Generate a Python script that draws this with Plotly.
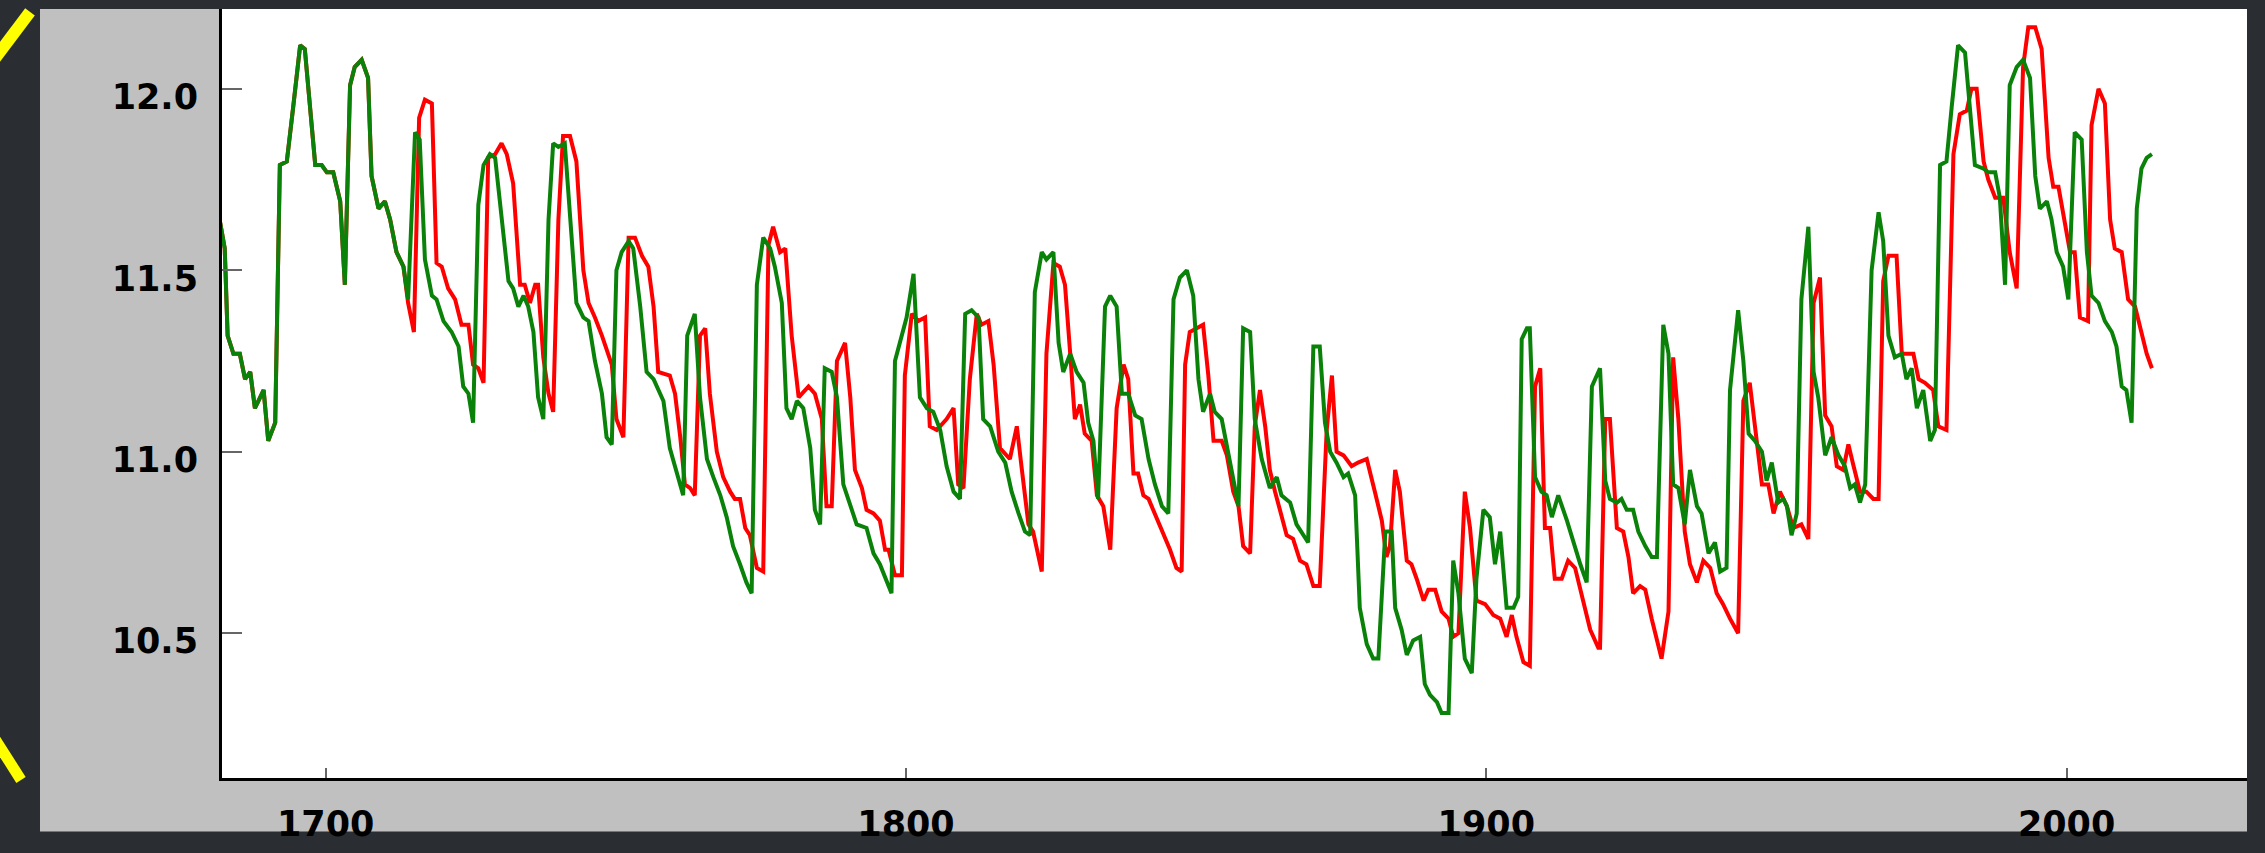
import plotly.graph_objects as go

# ---------------- data ----------------
green_years = [
    1681.5, 1682.6, 1683.1, 1684.1, 1685.2, 1686.1, 1687.0, 1687.8, 1688.7, 1689.3,
    1690.1, 1691.3, 1692.1, 1693.3, 1694.4, 1695.6, 1696.4, 1698.2, 1699.3, 1700.2,
    1701.3, 1702.5, 1703.3, 1704.2, 1705.0, 1706.2, 1707.3, 1707.9, 1709.1, 1710.2,
    1711.1, 1712.2, 1713.4, 1714.2, 1715.4, 1716.2, 1717.1, 1718.3, 1719.1, 1720.3,
    1721.7, 1722.9, 1723.7, 1724.6, 1725.4, 1726.3, 1727.2, 1728.3, 1729.2, 1731.5,
    1732.3, 1733.2, 1734.1, 1734.9, 1735.8, 1736.6, 1737.5, 1738.4, 1739.2, 1740.1,
    1741.2, 1742.1, 1743.2, 1744.4, 1745.3, 1746.4, 1747.6, 1748.4, 1749.3, 1750.1,
    1751.0, 1752.2, 1753.0, 1754.2, 1755.3, 1756.5, 1758.2, 1759.3, 1760.5, 1761.6,
    1762.3, 1763.6, 1764.5, 1765.7, 1766.8, 1768.0, 1769.1, 1770.2, 1771.4, 1772.5,
    1773.4, 1774.3, 1775.4, 1776.6, 1777.4, 1778.6, 1779.4, 1780.3, 1781.2, 1782.3,
    1783.5, 1784.3, 1785.2, 1786.0, 1787.2, 1788.1, 1789.2, 1790.4, 1791.5, 1793.2,
    1794.4, 1795.5, 1796.7, 1797.5, 1798.1, 1800.1, 1801.3, 1802.4, 1803.6, 1804.7,
    1805.9, 1807.0, 1808.2, 1809.3, 1810.2, 1811.3, 1812.5, 1813.3, 1814.5, 1815.9,
    1817.1, 1818.2, 1819.4, 1820.5, 1821.4, 1822.2, 1823.4, 1824.2, 1825.4, 1826.3,
    1827.1, 1828.3, 1829.4, 1830.6, 1831.4, 1832.3, 1833.1, 1834.3, 1835.2, 1836.3,
    1837.2, 1838.3, 1839.5, 1840.6, 1841.8, 1842.9, 1844.1, 1845.2, 1846.1, 1847.2,
    1848.4, 1849.5, 1850.4, 1851.2, 1852.4, 1853.2, 1854.4, 1856.1, 1857.3, 1858.1,
    1859.3, 1860.1, 1861.3, 1862.7, 1863.9, 1864.7, 1866.2, 1867.3, 1868.5, 1869.3,
    1870.2, 1871.3, 1872.2, 1873.1, 1874.2, 1875.4, 1876.2, 1877.4, 1878.2, 1879.4,
    1880.5, 1881.4, 1882.6, 1883.7, 1884.3, 1885.4, 1886.3, 1887.4, 1888.6, 1889.4,
    1890.3, 1891.5, 1892.3, 1893.5, 1894.3, 1895.2, 1896.3, 1897.5, 1898.3, 1899.5,
    1900.6, 1901.5, 1902.4, 1903.5, 1904.7, 1905.5, 1906.1, 1907.0, 1907.5, 1908.4,
    1909.5, 1910.4, 1911.3, 1912.4, 1913.9, 1915.0, 1916.2, 1917.3, 1918.2, 1919.6,
    1920.5, 1921.3, 1922.5, 1923.3, 1924.2, 1925.3, 1926.2, 1927.4, 1928.5, 1929.4,
    1930.5, 1931.4, 1932.2, 1933.1, 1934.2, 1935.1, 1936.3, 1937.1, 1938.3, 1939.4,
    1940.3, 1941.4, 1942.0, 1943.4, 1944.3, 1945.2, 1946.3, 1947.5, 1948.3, 1949.2,
    1950.3, 1951.2, 1951.8, 1952.6, 1953.5, 1954.3, 1955.5, 1956.4, 1957.2, 1958.4,
    1959.5, 1960.7, 1961.8, 1962.7, 1963.5, 1964.4, 1965.3, 1966.4, 1967.6, 1968.4,
    1969.3, 1970.4, 1971.6, 1972.4, 1973.3, 1974.2, 1975.3, 1976.5, 1977.3, 1978.2,
    1979.3, 1980.2, 1981.3, 1982.5, 1984.2, 1985.7, 1986.5, 1987.7, 1988.5, 1989.4,
    1990.2, 1991.4, 1992.5, 1993.7, 1994.6, 1995.4, 1996.6, 1997.4, 1998.3, 1999.4,
    2000.3, 2001.4, 2002.6, 2003.5, 2004.3, 2005.5, 2006.6, 2007.8, 2008.6, 2009.5,
    2010.3, 2011.2, 2012.1, 2012.9, 2013.8, 2014.7,
]
green_values = [
    11.66, 11.56, 11.32, 11.27, 11.27, 11.20, 11.22, 11.12, 11.15, 11.17,
    11.03, 11.08, 11.79, 11.80, 11.95, 12.12, 12.11, 11.79, 11.79, 11.77,
    11.77, 11.69, 11.46, 12.01, 12.06, 12.08, 12.03, 11.76, 11.67, 11.69,
    11.64, 11.55, 11.51, 11.42, 11.88, 11.86, 11.53, 11.43, 11.42, 11.36,
    11.33, 11.29, 11.18, 11.16, 11.08, 11.68, 11.79, 11.82, 11.81, 11.47,
    11.45, 11.40, 11.43, 11.40, 11.33, 11.15, 11.09, 11.64, 11.85, 11.84,
    11.85, 11.66, 11.41, 11.37, 11.36, 11.25, 11.16, 11.04, 11.02, 11.50,
    11.55, 11.58, 11.56, 11.40, 11.22, 11.20, 11.14, 11.01, 10.94, 10.88,
    11.32, 11.38, 11.15, 10.98, 10.93, 10.88, 10.82, 10.74, 10.69, 10.64,
    10.61, 11.46, 11.59, 11.56, 11.51, 11.41, 11.12, 11.09, 11.14, 11.12,
    11.01, 10.84, 10.80, 11.23, 11.22, 11.15, 10.91, 10.85, 10.80, 10.79,
    10.72, 10.69, 10.64, 10.61, 11.25, 11.37, 11.49, 11.15, 11.12, 11.11,
    11.06, 10.96, 10.89, 10.87, 11.38, 11.39, 11.37, 11.09, 11.07, 11.00,
    10.97, 10.89, 10.83, 10.78, 10.77, 11.44, 11.55, 11.53, 11.55, 11.30,
    11.22, 11.27, 11.22, 11.19, 11.08, 11.03, 10.87, 11.40, 11.43, 11.40,
    11.16, 11.16, 11.10, 11.09, 10.98, 10.91, 10.85, 10.83, 11.42, 11.48,
    11.50, 11.43, 11.20, 11.11, 11.16, 11.11, 11.09, 10.95, 10.85, 11.34,
    11.33, 11.09, 10.98, 10.90, 10.93, 10.88, 10.86, 10.80, 10.77, 10.75,
    11.29, 11.29, 11.08, 11.00, 10.97, 10.93, 10.94, 10.88, 10.57, 10.47,
    10.43, 10.43, 10.78, 10.78, 10.57, 10.51, 10.44, 10.48, 10.49, 10.36,
    10.33, 10.31, 10.28, 10.28, 10.70, 10.61, 10.43, 10.39, 10.65, 10.84,
    10.82, 10.69, 10.78, 10.57, 10.57, 10.60, 11.31, 11.34, 11.34, 10.93,
    10.89, 10.88, 10.82, 10.88, 10.81, 10.75, 10.69, 10.64, 11.18, 11.23,
    10.92, 10.87, 10.86, 10.87, 10.84, 10.84, 10.78, 10.74, 10.71, 10.71,
    11.35, 11.27, 10.91, 10.90, 10.80, 10.95, 10.85, 10.83, 10.72, 10.75,
    10.67, 10.68, 11.17, 11.39, 11.25, 11.05, 11.03, 11.00, 10.92, 10.97,
    10.86, 10.87, 10.85, 10.77, 10.83, 11.42, 11.62, 11.22, 11.15, 10.99,
    11.04, 10.99, 10.96, 10.90, 10.91, 10.86, 10.91, 11.50, 11.66, 11.58,
    11.32, 11.26, 11.27, 11.20, 11.23, 11.12, 11.17, 11.03, 11.06, 11.79,
    11.80, 11.95, 12.12, 12.10, 11.79, 11.78, 11.77, 11.77, 11.70, 11.46,
    12.01, 12.06, 12.08, 12.03, 11.76, 11.67, 11.69, 11.64, 11.55, 11.51,
    11.42, 11.88, 11.86, 11.55, 11.43, 11.41, 11.36, 11.33, 11.29, 11.18,
    11.17, 11.08, 11.67, 11.78, 11.81, 11.82,
]

red_years = [
    1681.5, 1682.6, 1683.1, 1684.1, 1685.2, 1686.1, 1687.0, 1687.8, 1688.7, 1689.3,
    1690.1, 1691.3, 1692.1, 1693.3, 1694.4, 1695.6, 1696.4, 1698.2, 1699.3, 1700.2,
    1701.3, 1702.5, 1703.3, 1704.2, 1705.0, 1706.2, 1707.3, 1707.9, 1709.1, 1710.2,
    1711.1, 1712.2, 1713.4, 1714.2, 1715.2, 1716.1, 1717.1, 1718.3, 1719.1, 1720.0,
    1721.1, 1722.3, 1723.4, 1724.6, 1725.4, 1726.3, 1727.2, 1728.0, 1729.2, 1730.3,
    1731.2, 1732.3, 1733.5, 1734.3, 1735.2, 1736.1, 1736.6, 1737.5, 1738.4, 1739.2,
    1740.1, 1740.9, 1742.1, 1743.2, 1744.4, 1745.3, 1746.4, 1747.6, 1749.3, 1750.1,
    1751.3, 1752.2, 1753.3, 1754.5, 1755.6, 1756.5, 1757.3, 1759.3, 1760.2, 1761.1,
    1761.9, 1762.8, 1763.6, 1764.5, 1765.4, 1766.2, 1767.4, 1768.5, 1769.7, 1770.5,
    1771.4, 1772.3, 1773.1, 1774.3, 1775.4, 1776.3, 1777.1, 1778.3, 1779.2, 1780.3,
    1781.5, 1783.2, 1784.3, 1785.5, 1786.3, 1787.2, 1788.1, 1789.5, 1790.4, 1791.2,
    1792.4, 1793.2, 1794.4, 1795.5, 1796.4, 1797.0, 1798.1, 1799.3, 1799.8, 1801.0,
    1802.1, 1803.3, 1804.1, 1805.3, 1807.0, 1808.2, 1809.0, 1809.9, 1811.0, 1812.2,
    1813.0, 1814.2, 1815.1, 1816.2, 1817.9, 1819.1, 1819.9, 1821.1, 1821.9, 1823.4,
    1824.2, 1825.4, 1826.5, 1827.4, 1828.3, 1829.1, 1830.0, 1830.8, 1832.0, 1832.9,
    1834.0, 1835.2, 1836.3, 1837.5, 1838.3, 1839.2, 1840.0, 1840.9, 1841.8, 1842.9,
    1844.3, 1845.5, 1846.6, 1847.5, 1848.1, 1848.9, 1850.1, 1851.2, 1852.1, 1853.0,
    1854.4, 1855.3, 1856.4, 1857.3, 1858.1, 1859.3, 1860.1, 1861.0, 1861.9, 1862.7,
    1863.6, 1864.5, 1865.6, 1866.7, 1867.9, 1869.0, 1870.2, 1871.3, 1872.5, 1873.4,
    1874.2, 1875.4, 1876.8, 1877.9, 1879.4, 1880.8, 1882.0, 1882.8, 1883.4, 1884.3,
    1885.1, 1886.3, 1887.1, 1888.0, 1889.2, 1890.0, 1891.2, 1892.3, 1893.5, 1894.3,
    1895.2, 1896.3, 1897.2, 1898.3, 1899.8, 1901.2, 1902.4, 1903.5, 1904.4, 1905.2,
    1906.4, 1907.5, 1908.4, 1909.3, 1910.1, 1911.0, 1911.8, 1913.0, 1914.1, 1915.3,
    1916.4, 1917.9, 1919.3, 1919.6, 1920.5, 1921.3, 1922.5, 1923.6, 1924.5, 1925.3,
    1926.5, 1927.4, 1928.5, 1929.4, 1930.2, 1931.4, 1932.2, 1933.1, 1934.2, 1935.1,
    1936.3, 1937.4, 1938.6, 1939.7, 1940.8, 1942.0, 1943.4, 1944.3, 1945.4, 1946.3,
    1947.5, 1948.6, 1949.5, 1950.6, 1951.8, 1952.9, 1954.3, 1955.5, 1956.4, 1957.5,
    1958.4, 1959.5, 1960.4, 1961.5, 1962.4, 1963.3, 1964.4, 1965.5, 1966.7, 1967.6,
    1968.4, 1969.3, 1970.7, 1971.6, 1972.7, 1973.6, 1974.5, 1975.6, 1977.0, 1977.9,
    1979.3, 1980.5, 1981.6, 1982.8, 1983.6, 1984.5, 1985.7, 1986.5, 1987.7, 1989.1,
    1990.2, 1991.4, 1992.5, 1993.4, 1994.6, 1995.7, 1996.9, 1997.7, 1998.6, 1999.4,
    2000.6, 2001.4, 2002.3, 2003.7, 2004.3, 2005.5, 2006.6, 2007.5, 2008.3, 2009.5,
    2010.6, 2011.8, 2012.9, 2013.8, 2014.7,
]
red_values = [
    11.66, 11.56, 11.32, 11.27, 11.27, 11.20, 11.22, 11.12, 11.15, 11.17,
    11.03, 11.08, 11.79, 11.80, 11.95, 12.12, 12.11, 11.79, 11.79, 11.77,
    11.77, 11.69, 11.46, 12.01, 12.06, 12.08, 12.03, 11.76, 11.67, 11.69,
    11.64, 11.55, 11.51, 11.41, 11.33, 11.92, 11.97, 11.96, 11.52, 11.51,
    11.45, 11.42, 11.35, 11.35, 11.24, 11.23, 11.19, 11.81, 11.82, 11.85,
    11.82, 11.74, 11.46, 11.46, 11.41, 11.46, 11.46, 11.26, 11.16, 11.11,
    11.64, 11.87, 11.87, 11.80, 11.50, 11.41, 11.37, 11.32, 11.24, 11.09,
    11.04, 11.59, 11.59, 11.54, 11.51, 11.40, 11.22, 11.21, 11.16, 11.04,
    10.91, 10.90, 10.88, 11.32, 11.34, 11.16, 11.00, 10.93, 10.89, 10.87,
    10.87, 10.79, 10.77, 10.68, 10.67, 11.57, 11.62, 11.55, 11.56, 11.32,
    11.15, 11.18, 11.16, 11.09, 10.85, 10.85, 11.25, 11.30, 11.15, 10.95,
    10.90, 10.84, 10.83, 10.81, 10.73, 10.73, 10.66, 10.66, 11.21, 11.38,
    11.36, 11.37, 11.07, 11.06, 11.09, 11.12, 10.91, 10.90, 11.20, 11.38,
    11.35, 11.36, 11.24, 11.01, 10.98, 11.07, 10.96, 10.80, 10.78, 10.67,
    11.27, 11.52, 11.51, 11.46, 11.27, 11.09, 11.13, 11.05, 11.03, 10.88,
    10.85, 10.73, 11.12, 11.24, 11.20, 10.94, 10.94, 10.88, 10.87, 10.83,
    10.78, 10.73, 10.68, 10.67, 11.24, 11.33, 11.34, 11.35, 11.21, 11.03,
    11.03, 10.99, 10.89, 10.85, 10.74, 10.72, 11.07, 11.17, 11.07, 10.95,
    10.89, 10.84, 10.77, 10.76, 10.70, 10.69, 10.63, 10.63, 11.06, 11.21,
    11.00, 10.99, 10.96, 10.97, 10.98, 10.89, 10.81, 10.71, 10.74, 10.95,
    10.89, 10.70, 10.69, 10.65, 10.59, 10.62, 10.62, 10.56, 10.54, 10.49,
    10.50, 10.89, 10.79, 10.59, 10.58, 10.55, 10.54, 10.49, 10.55, 10.49,
    10.42, 10.41, 11.18, 11.23, 10.79, 10.79, 10.65, 10.65, 10.70, 10.68,
    10.61, 10.51, 10.46, 10.46, 11.09, 11.09, 10.79, 10.78, 10.71, 10.61,
    10.63, 10.62, 10.54, 10.48, 10.43, 10.56, 11.26, 11.09, 10.78, 10.69,
    10.64, 10.70, 10.68, 10.61, 10.58, 10.54, 10.50, 11.14, 11.19, 11.07,
    10.91, 10.91, 10.83, 10.89, 10.85, 10.79, 10.80, 10.76, 11.41, 11.48,
    11.10, 11.07, 10.96, 10.95, 11.02, 10.96, 10.89, 10.89, 10.87, 10.87,
    11.47, 11.54, 11.54, 11.27, 11.27, 11.27, 11.20, 11.19, 11.17, 11.07,
    11.06, 11.82, 11.93, 11.94, 12.00, 12.00, 11.80, 11.75, 11.70, 11.70,
    11.55, 11.45, 12.06, 12.17, 12.17, 12.11, 11.81, 11.73, 11.73, 11.66,
    11.55, 11.55, 11.37, 11.36, 11.90, 12.00, 11.96, 11.64, 11.56, 11.55,
    11.42, 11.40, 11.33, 11.27, 11.23,
]

x_tick_values = [1700, 1800, 1900, 2000]
x_tick_labels = ["1700", "1800", "1900", "2000"]
y_tick_values = [10.5, 11.0, 11.5, 12.0]
y_tick_labels = ["10.5", "11.0", "11.5", "12.0"]

# ---------------- layout geometry (pixels) ----------------
W, H = 2265, 853
PL, PR, PT, PB = 222, 2247, 9, 798   # plot area edges


def px(x):
    return (x - PL) / (PR - PL)


def py(y):
    return (PB - y) / (PB - PT)


fig = go.Figure()
fig.add_trace(go.Scatter(x=red_years, y=red_values, mode="lines",
                         line=dict(color="#ff0000", width=4),
                         showlegend=False, hoverinfo="skip"))
fig.add_trace(go.Scatter(x=green_years, y=green_values, mode="lines",
                         line=dict(color="#0a820a", width=4),
                         showlegend=False, hoverinfo="skip"))

shapes = [
    # grey panel, left of and below the plot area
    dict(type="rect", xref="paper", yref="paper", layer="below",
         x0=px(40), x1=px(PL), y0=py(H), y1=py(PT),
         fillcolor="#c0c0c0", line=dict(width=0)),
    dict(type="rect", xref="paper", yref="paper", layer="below",
         x0=px(PL), x1=px(PR), y0=py(H), y1=py(PB),
         fillcolor="#c0c0c0", line=dict(width=0)),
    # yellow marks at the far left
    dict(type="line", xref="paper", yref="paper",
         x0=px(-6), y0=py(61), x1=px(30), y1=py(12),
         line=dict(color="#ffff00", width=12)),
    dict(type="line", xref="paper", yref="paper",
         x0=px(-5), y0=py(758), x1=px(21), y1=py(800),
         line=dict(color="#ffff00", width=11)),
]

font_family = "DejaVu Sans, Liberation Sans, sans-serif"
tick_font = dict(family=font_family, size=35, color="#000000", weight="bold")

fig.update_layout(
    width=W, height=H, autosize=False,
    margin=dict(l=PL, r=W - PR, t=PT, b=H - PB, pad=0),
    paper_bgcolor="#2a2d32",
    plot_bgcolor="#ffffff",
    shapes=shapes,
    showlegend=False,
    hovermode=False,
    font=dict(family=font_family, size=35, color="#000000"),
)
fig.update_xaxes(
    range=[1682.13, 2031.09],
    tickvals=x_tick_values, ticktext=x_tick_labels,
    ticks="inside", ticklen=10, tickwidth=2, tickcolor="#666666",
    showline=True, linecolor="#000000", linewidth=2.5,
    showgrid=False, zeroline=False,
    tickfont=tick_font,
    ticklabelstandoff=13,
)
fig.update_yaxes(
    range=[10.101, 12.220],
    tickvals=y_tick_values, ticktext=y_tick_labels,
    ticks="inside", ticklen=20, tickwidth=2, tickcolor="#666666",
    showline=True, linecolor="#000000", linewidth=3,
    showgrid=False, zeroline=False,
    tickfont=tick_font,
    ticklabelstandoff=14, ticklabelshift=8,
)

fig.write_html(
    "out.html",
    config={"displayModeBar": False, "staticPlot": True},
    post_script="document.body.style.margin='0';document.body.style.padding='0';"
                "document.body.style.overflow='hidden';",
)
